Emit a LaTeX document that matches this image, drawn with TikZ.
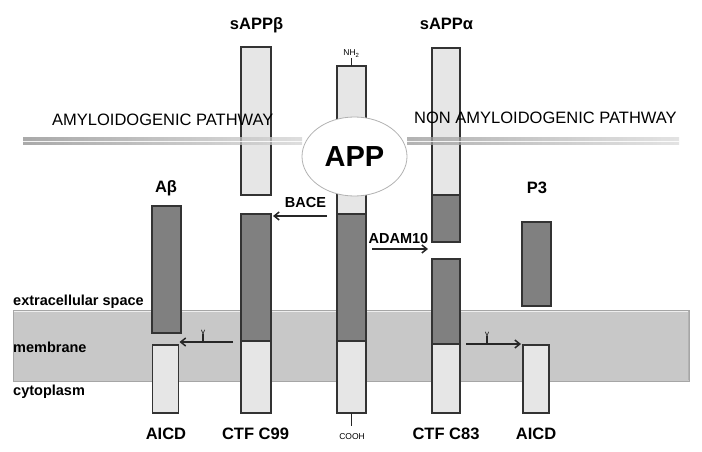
\documentclass[tikz,border=0pt]{standalone}
\usepackage{fontspec}
\setmainfont{Liberation Sans}
\usetikzlibrary{arrows.meta,shapes.geometric}
\definecolor{lbox}{HTML}{E6E6E6}
\definecolor{dbox}{HTML}{808080}
\definecolor{memb}{HTML}{C8C8C8}
\definecolor{edgec}{HTML}{333333}
\begin{document}
\begin{tikzpicture}[x=1pt,y=-1pt,
  box/.style={draw=edgec, line width=1.1pt, inner sep=0pt, outer sep=0pt},
  lightbox/.style={box, fill=lbox},
  darkbox/.style={box, fill=dbox},
  lbl/.style={font=\bfseries\fontsize{16.5}{18}\selectfont, inner sep=0pt, anchor=base},
  side/.style={font=\bfseries\fontsize{14.5}{16}\selectfont, inner sep=0pt, anchor=base west},
  enz/.style={font=\bfseries\fontsize{14.5}{16}\selectfont, inner sep=0pt, anchor=base},
  path/.style={font=\fontsize{16.5}{18}\selectfont, inner sep=0pt, anchor=base west},
  tiny/.style={font=\fontsize{8.5}{9}\selectfont, inner sep=0pt, anchor=base},
  gam/.style={font=\fontsize{8}{9}\selectfont, inner sep=0pt, anchor=base},
  arr/.style={draw=black!85, line width=1.5pt, -{Straight Barb[length=5pt,width=8pt]}},
  tick/.style={draw=black!85, line width=1.2pt}
]
\useasboundingbox (0,0) rectangle (702,452);

% membrane
\node[fill=memb, draw=gray!70, line width=0.6pt, inner sep=0pt,
      minimum width=676pt, minimum height=71pt] (memb) at (351,345.5) {};
\draw[white!70!memb, line width=1.2pt] ([shift={(1,1.5)}]memb.north west) -- ([shift={(-1,1.5)}]memb.north east);
\draw[gray!60, line width=1.2pt] ([shift={(-1,1)}]memb.north east) -- ([shift={(-1,-1)}]memb.south east);

% boxes
\node[lightbox, minimum width=30pt, minimum height=148pt] (sappb) at (256,121) {};
\node[darkbox,  minimum width=30pt, minimum height=127pt] (c99d) at (256,277.5) {};
\node[lightbox, minimum width=30pt, minimum height=72pt]  (c99l) at (256,377) {};
\node[darkbox,  minimum width=29pt, minimum height=127pt] (abeta) at (166.5,269.5) {};
\node[lightbox, minimum width=26pt, minimum height=68pt]  (aicdL) at (165.5,379) {};
\node[lightbox, minimum width=29pt, minimum height=148pt] (appt) at (351.5,140) {};
\node[darkbox,  minimum width=29pt, minimum height=127pt] (appd) at (351.5,277.5) {};
\node[lightbox, minimum width=29pt, minimum height=72pt]  (appb) at (351.5,377) {};
\node[lightbox, minimum width=28pt, minimum height=147pt] (sappal) at (446,121.5) {};
\node[darkbox,  minimum width=28pt, minimum height=47pt]  (sappad) at (446,218.5) {};
\node[darkbox,  minimum width=28pt, minimum height=85pt]  (c83d) at (446,301.5) {};
\node[lightbox, minimum width=28pt, minimum height=69pt]  (c83l) at (446,378.5) {};
\node[darkbox,  minimum width=29pt, minimum height=84pt]  (p3) at (536.5,264) {};
\node[lightbox, minimum width=26pt, minimum height=68pt]  (aicdR) at (536,379) {};

% pathway line
\shade[left color=gray!90, right color=gray!35, opacity=0.75] (23,137.5) rectangle (302,144.5);
\shade[left color=gray!80, right color=gray!30, opacity=0.75] (407,137.5) rectangle (679,144.5);
\draw[white, line width=0.9pt, opacity=0.85] (23,141) -- (679,141);

% pathway texts
\node[path] (amy) at (52,125) {AMYLOIDOGENIC PATHWAY};
\node[path] (nonamy) at (414,123) {NON AMYLOIDOGENIC PATHWAY};

% APP ellipse
\node[ellipse, draw=gray!60, fill=white, line width=0.8pt, inner sep=0pt,
      minimum width=105pt, minimum height=79pt,
      font=\bfseries\fontsize{29}{32}\selectfont] (app) at (354.5,156.5) {APP};

% termini
\node[tiny] (nh2) at (351.5,56) {NH\textsubscript{2}};
\coordinate (nhT) at (351.5,58);
\draw[tick] (nhT) -- (appt.north);
\coordinate (coT) at (351.5,426);
\draw[tick] (appb.south) -- (coT);
\node[tiny] (cooh) at (352,439) {COOH};

% labels
\node[lbl] (lsappb) at (256.5,30) {sAPPβ};
\node[lbl] (lsappa) at (446.5,29.5) {sAPPα};
\node[lbl] (labeta) at (166,192) {Aβ};
\node[lbl] (lp3) at (537,193) {P3};
\node[lbl] (laicdL) at (166,439) {AICD};
\node[lbl] (lc99) at (255.5,439) {CTF C99};
\node[lbl] (lc83) at (446,439) {CTF C83};
\node[lbl] (laicdR) at (536,439) {AICD};
\node[enz] (lbace) at (305.5,207) {BACE};
\node[enz] (ladam) at (398.5,243) {ADAM10};
\node[side] (lext) at (13,305.5) {extracellular space};
\node[side] (lmem) at (13,352) {membrane};
\node[side] (lcyt) at (13,395) {cytoplasm};

% arrows
\coordinate (baceS) at (327,216);
\draw[arr] (baceS) -- ([xshift=2pt]c99d.east |- baceS);
\coordinate (adamS) at (372,249);
\coordinate (adamE) at (428,249);
\draw[arr] (adamS) -- (adamE);
\coordinate (gLS) at (233,342);
\draw[arr] (gLS) -- ([xshift=1pt]aicdL.east |- gLS);
\coordinate (gRS) at (466,344);
\draw[arr] (gRS) -- ([xshift=-2pt]aicdR.west |- gRS);

% gamma ticks
\node[gam] (gamL) at (203,334.5) {γ};
\coordinate (tL) at (203,342);
\draw[tick] ([yshift=1pt]gamL.base) -- (tL);
\node[gam] (gamR) at (487,336.5) {γ};
\coordinate (tR) at (487,344);
\draw[tick] ([yshift=1pt]gamR.base) -- (tR);
\end{tikzpicture}
\end{document}
